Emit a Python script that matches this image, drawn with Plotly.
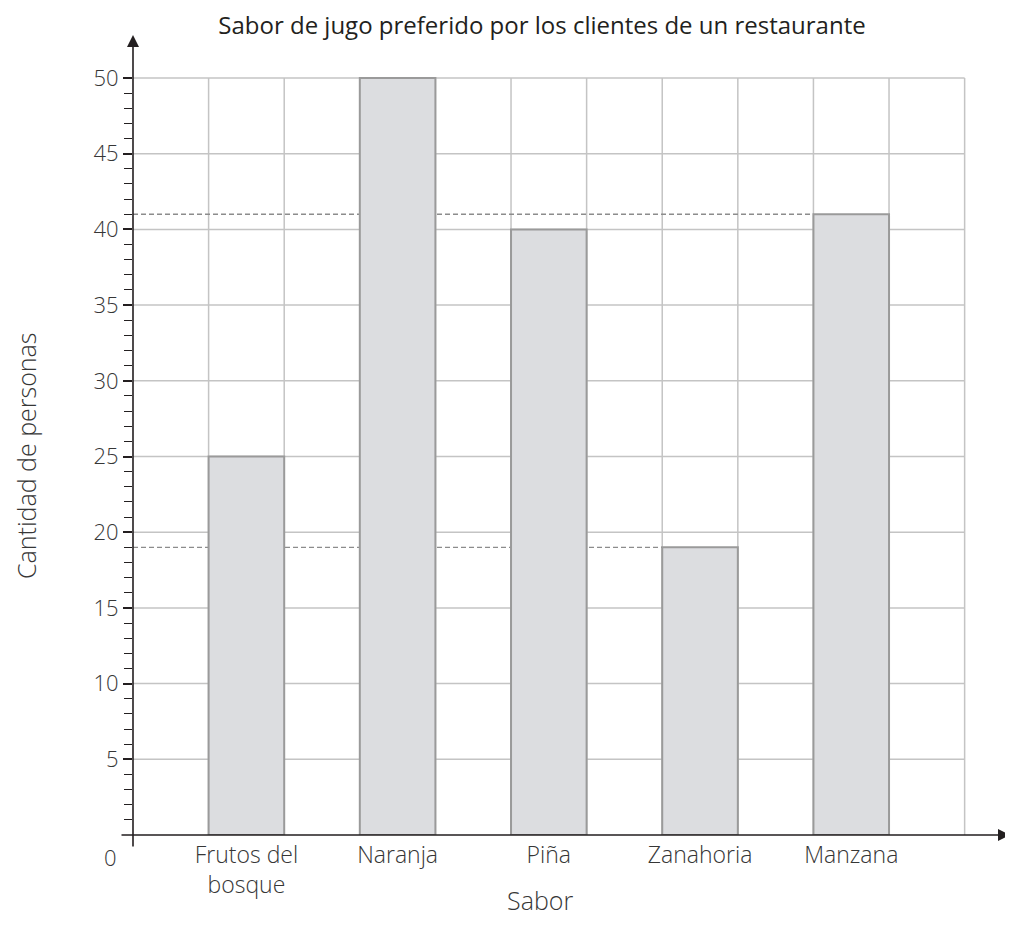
import plotly.graph_objects as go

# Data
categories = ["Frutos del<br>bosque", "Naranja", "Piña", "Zanahoria", "Manzana"]
values = [25, 50, 40, 19, 41]
bar_positions = [1.5, 3.5, 5.5, 7.5, 9.5]
highlight_idx = [4, 3]  # Manzana, Zanahoria reference lines
major_ticks = [5, 10, 15, 20, 25, 30, 35, 40, 45, 50]
minor_ticks = [v for v in range(1, 50) if v % 5 != 0]

title_text = "Sabor de jugo preferido por los clientes de un restaurante"
x_title = "Sabor"
y_title = "Cantidad de personas"

FONT = "Open Sans"
TXT = "#363636"
GRID = "#c4c4c4"
AX = "#231f20"

X_MAX = 11.6
Y_MAX = 52.84
GRID_X_END = 11
GRID_Y_END = 50

W, H = 1005, 932
L, R, T, B = 125, 3, 27, 105
PW, PH = W - L - R, H - T - B

fig = go.Figure()
fig.add_trace(go.Bar(
    x=bar_positions, y=values, width=1.0,
    marker=dict(color="#dcdde0", line=dict(color="#9a9a9a", width=2)),
    hoverinfo="skip",
))

shapes = []
for v in major_ticks:
    shapes.append(dict(type="line", xref="x", yref="y", x0=0, x1=GRID_X_END, y0=v, y1=v,
                       line=dict(color=GRID, width=1.5), layer="below"))
for i in range(1, GRID_X_END + 1):
    shapes.append(dict(type="line", xref="x", yref="y", x0=i, x1=i, y0=0, y1=GRID_Y_END,
                       line=dict(color=GRID, width=1.5), layer="below"))
for idx in highlight_idx:
    shapes.append(dict(type="line", xref="x", yref="y", x0=0, x1=bar_positions[idx] - 0.5,
                       y0=values[idx], y1=values[idx],
                       line=dict(color="#8c8c8c", width=1.4, dash="5px,3px"), layer="below"))

annotations = []
annotations.append(dict(xref="paper", yref="paper", x=0, y=1, ax=0, ay=PH + 13, text="",
                        showarrow=True, arrowhead=2, arrowsize=1.5, arrowwidth=1.6, arrowcolor=AX))
annotations.append(dict(xref="paper", yref="paper", x=1, y=0, ax=-(PW + 13), ay=0, text="",
                        showarrow=True, arrowhead=2, arrowsize=1.5, arrowwidth=1.6, arrowcolor=AX))
annotations.append(dict(xref="paper", yref="paper", x=0, y=0, text="0", showarrow=False,
                        xanchor="right", yanchor="middle", xshift=-14, yshift=-22,
                        font=dict(family=FONT, size=22, color=TXT, weight=300)))
annotations.append(dict(xref="paper", yref="paper", x=(540 - 133) / PW, y=(835 - 900) / PH,
                        text=x_title, showarrow=False, xanchor="center", yanchor="middle",
                        font=dict(family=FONT, size=25, color=TXT, weight=300)))
annotations.append(dict(xref="paper", yref="paper", x=(26 - 133) / PW, y=(835 - 456) / PH,
                        text=y_title, showarrow=False, textangle=-90, xanchor="center", yanchor="middle",
                        font=dict(family=FONT, size=25, color=TXT, weight=300)))

fig.update_layout(
    width=W, height=H,
    margin=dict(l=L, r=R, t=T, b=B),
    paper_bgcolor="white", plot_bgcolor="white",
    showlegend=False,
    title=dict(text=title_text, xref="container", yref="container",
               x=534 / W, y=1 - 18 / H, xanchor="center", yanchor="middle",
               font=dict(family=FONT, size=24, color=AX)),
    shapes=shapes, annotations=annotations,
    xaxis=dict(range=[0, X_MAX], showgrid=False, zeroline=False, showline=False,
               tickmode="array", tickvals=bar_positions, ticktext=categories,
               ticks="", ticklabelstandoff=4,
               tickfont=dict(family=FONT, size=23, color=TXT, weight=300)),
    yaxis=dict(range=[0, Y_MAX], showgrid=False, zeroline=False, showline=False,
               tickmode="array", tickvals=major_ticks, ticks="outside", ticklen=9,
               tickwidth=1.5, tickcolor=AX,
               minor=dict(tickmode="array", tickvals=minor_ticks, ticks="outside",
                          ticklen=8, tickwidth=1.3, tickcolor=AX, showgrid=False),
               tickfont=dict(family=FONT, size=22, color=TXT, weight=300)),
)

fig.write_html("out.html")
